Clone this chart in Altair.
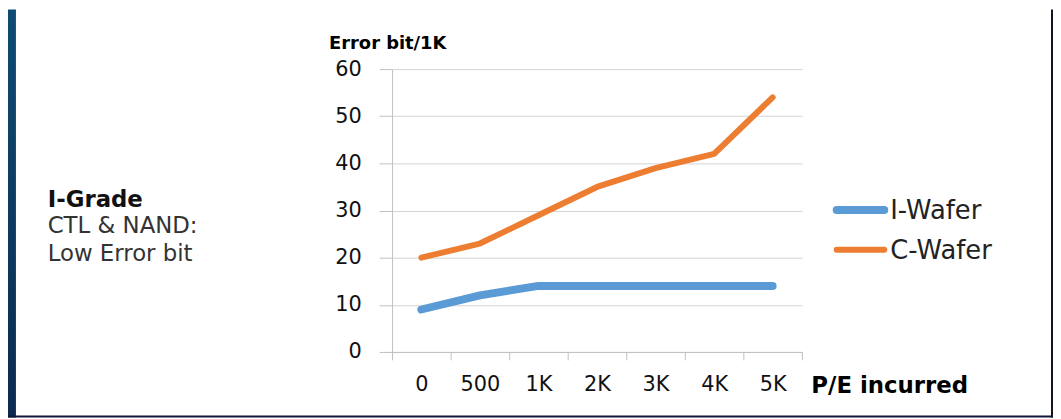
import altair as alt
import pandas as pd

# ---- data ----
pe_labels = ["0", "500", "1K", "2K", "3K", "4K", "5K"]
i_wafer = [9, 12, 14, 14, 14, 14, 14]
c_wafer = [20, 23, 29, 35, 39, 42, 54]
series_names = ["I-Wafer", "C-Wafer"]
series_colors = ["#5B9BD5", "#ED7D31"]
series_widths = [8, 6]
y_ticks = [0, 10, 20, 30, 40, 50, 60]
note_head = "I-Grade"
note_body = ["CTL & NAND:", "Low Error bit"]

rows = []
for name, vals in zip(series_names, [i_wafer, c_wafer]):
    for lab, v in zip(pe_labels, vals):
        rows.append({"pe": lab, "err": v, "series": name})
df = pd.DataFrame(rows)
legend_df = pd.DataFrame({"series": series_names})
one = pd.DataFrame({"k": [0]})

W, H = 413, 285
PL, PT = 387, 60
PR = 1053 - PL - W
PB = 411 - PT - H

color_scale = alt.Scale(domain=series_names, range=series_colors)
width_scale = alt.Scale(domain=series_names, range=series_widths)

# ---- frame decoration (dark slide border) ----
left_band = alt.Chart(one).mark_rect(
    fill=alt.Gradient(gradient="linear", x1=0, x2=0, y1=0, y2=1,
                      stops=[alt.GradientStop(color="#0e4b73", offset=0),
                             alt.GradientStop(color="#0c2a50", offset=1)])
).encode(x=alt.value(-PL), x2=alt.value(-PL + 8), y=alt.value(-PT), y2=alt.value(H + PB))
bottom_band = alt.Chart(one).mark_rect(color="#10183a").encode(
    x=alt.value(-PL), x2=alt.value(W + PR), y=alt.value(H + PB - 2), y2=alt.value(H + PB))
right_band = alt.Chart(one).mark_rect(color="#1a1020").encode(
    x=alt.value(W + PR - 2), x2=alt.value(W + PR), y=alt.value(-PT), y2=alt.value(H + PB))

lines = alt.Chart(df).mark_line(strokeCap="round", strokeJoin="round").encode(
    x=alt.X("pe:N", sort=pe_labels,
            scale=alt.Scale(paddingInner=0, paddingOuter=0),
            axis=alt.Axis(title="P/E incurred", tickBand="extent", labelAngle=0,
                          labelFont="DejaVu Sans", labelFontSize=21, labelColor="#111111",
                          labelPadding=14, tickSize=8, tickColor="#bfbfbf",
                          domainColor="#bfbfbf", grid=False,
                          titleFont="DejaVu Sans", titleFontWeight="bold", titleFontSize=23,
                          titleColor="#000000", titleAlign="left", titleBaseline="alphabetic",
                          titleAnchor="start", titleX=422, titleY=41)),
    y=alt.Y("err:Q", scale=alt.Scale(domain=[0, 60], nice=False),
            axis=alt.Axis(title="Error bit/1K", values=y_ticks,
                          labelFont="DejaVu Sans", labelFontSize=21, labelColor="#111111",
                          labelPadding=18, tickSize=13, tickColor="#bfbfbf",
                          domainColor="#bfbfbf", gridColor="#d4d4d4",
                          titleFont="DejaVu Sans", titleFontWeight="bold", titleFontSize=18,
                          titleColor="#000000", titleAngle=0, titleAlign="left",
                          titleBaseline="alphabetic", titleAnchor="start",
                          titleX=-64, titleY=-21)),
    color=alt.Color("series:N", scale=color_scale, legend=None),
    strokeWidth=alt.StrokeWidth("series:N", scale=width_scale, legend=None),
    detail="series:N",
)

# ---- legend drawn from the series list ----
leg_y = alt.Y("series:N",
              scale=alt.Scale(type="point", domain=series_names, range=[142, 182], padding=0),
              axis=None)
legend_lines = alt.Chart(legend_df).mark_rule(strokeCap="round").encode(
    x=alt.value(448), x2=alt.value(496), y=leg_y,
    color=alt.Color("series:N", scale=color_scale, legend=None),
    strokeWidth=alt.StrokeWidth("series:N", scale=width_scale, legend=None),
)
legend_text = alt.Chart(legend_df).mark_text(
    align="left", baseline="middle", font="DejaVu Sans", fontSize=26, color="#222222", dy=1
).encode(x=alt.value(502), y=leg_y, text="series:N")

head = alt.Chart(one).mark_text(
    text=note_head, align="left", baseline="alphabetic", font="DejaVu Sans",
    fontWeight="bold", fontSize=23, color="#111111"
).encode(x=alt.value(-347), y=alt.value(139))
body = alt.Chart(one).mark_text(
    text=note_body, align="left", baseline="alphabetic", font="DejaVu Sans",
    fontSize=23, lineHeight=28, color="#333333"
).encode(x=alt.value(-347), y=alt.value(165))

chart = alt.layer(left_band, bottom_band, right_band, lines, legend_lines, legend_text,
                  head, body).resolve_scale(y="independent").properties(
    width=W, height=H,
    padding={"left": PL, "top": PT, "right": PR, "bottom": PB},
    autosize=alt.AutoSizeParams(type="none"),
    background="#ffffff",
).configure_view(stroke=None)

chart.save("out.html", embed_options={"renderer": "svg", "actions": False})
